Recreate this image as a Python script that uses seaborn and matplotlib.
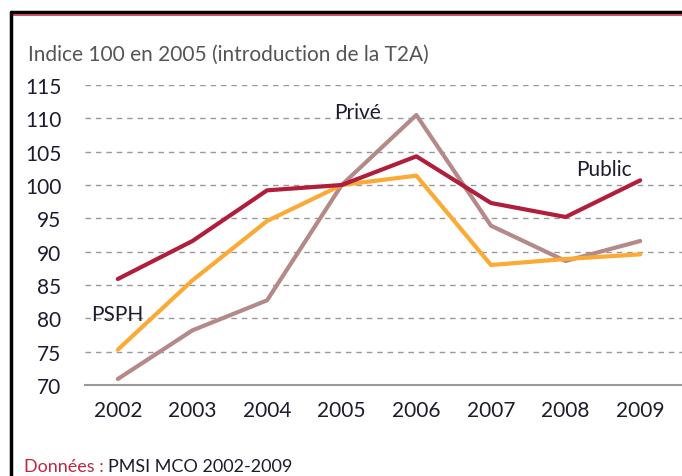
import matplotlib
matplotlib.use("Agg")
import matplotlib.pyplot as plt
import pandas as pd
import seaborn as sns

# Données (indice 100 en 2005)
annees = [2002, 2003, 2004, 2005, 2006, 2007, 2008, 2009]
public = [85.9, 91.6, 99.2, 100.0, 104.3, 97.3, 95.2, 100.7]
psph = [75.3, 85.7, 94.6, 100.0, 101.4, 88.0, 88.9, 89.6]
prive = [70.9, 78.2, 82.7, 100.0, 110.5, 93.9, 88.6, 91.6]
yticks = [70, 75, 80, 85, 90, 95, 100, 105, 110, 115]

df = pd.DataFrame({
    'annee': annees * 3,
    'indice': public + psph + prive,
    'secteur': ['Public'] * 8 + ['PSPH'] * 8 + ['Privé'] * 8,
})

sns.set_style("white")
plt.rcParams['font.family'] = ['Lato', 'DejaVu Sans']

couleurs = {'Public': '#B01E3C', 'PSPH': '#FBAA36', 'Privé': '#B48A88'}
texte = '#1c1c2e'

fig = plt.figure(figsize=(6.82, 4.77), dpi=100)
ax = fig.add_axes([85 / 682, 1 - 386 / 477, 1 - 85 / 682, 300 / 477])

sns.lineplot(data=df, x='annee', y='indice', hue='secteur',
             hue_order=['Privé', 'PSPH', 'Public'], palette=couleurs,
             linewidth=3, legend=False, ax=ax)

ax.set_xlim(2001.56, 2009.56)
ax.set_ylim(70, 115)
ax.set_yticks(yticks)
ax.set_xticks(annees)
ax.set_xticklabels([str(a) for a in annees])
for y in yticks[1:]:
    ax.axhline(y, color='#999999', lw=1, ls=(0, (4, 3.5)), zorder=0)
for s in ['top', 'right', 'left']:
    ax.spines[s].set_visible(False)
ax.spines['bottom'].set_color('#9a9a9a')
ax.spines['bottom'].set_linewidth(1.5)
ax.tick_params(axis='y', length=0, pad=17, labelsize=15, labelcolor=texte)
ax.tick_params(axis='x', length=0, pad=11, labelsize=15, labelcolor=texte)
ax.set_xlabel('')
ax.set_ylabel('')

# étiquettes des séries
ax.text(2005.21, 110.9, 'Privé', fontsize=15, color=texte, va='center', ha='center')
ax.text(2008.52, 102.4, 'Public', fontsize=15, color=texte, va='center', ha='center')
ax.text(2001.64, 80.6, 'PSPH', fontsize=15, color=texte, va='center', ha='left')

# cadre
fig.add_artist(plt.Line2D([11 / 682, 1], [1 - 13 / 477, 1 - 13 / 477],
                          color='black', lw=2.5, transform=fig.transFigure))
fig.add_artist(plt.Line2D([11 / 682, 1], [1 - 15.5 / 477, 1 - 15.5 / 477],
                          color='#C8304A', lw=1.2, transform=fig.transFigure))
fig.add_artist(plt.Line2D([11 / 682, 11 / 682], [0, 1 - 13 / 477],
                          color='black', lw=2.5, transform=fig.transFigure))

fig.text(28 / 682, 1 - 55 / 477, 'Indice 100 en 2005 (introduction de la T2A)',
         fontsize=15, color='#555555', va='center', ha='left')
src = fig.text(24 / 682, 1 - 467 / 477, 'Données :', fontsize=13, color='#C0283F',
               va='center', ha='left')
fig.add_artist(matplotlib.text.Annotation(
    'PMSI MCO 2002-2009', xy=(1, 0.5), xycoords=src, xytext=(3, 0),
    textcoords='offset points', fontsize=13, color=texte, va='center', ha='left'))

fig.savefig('out.png', dpi=100)
